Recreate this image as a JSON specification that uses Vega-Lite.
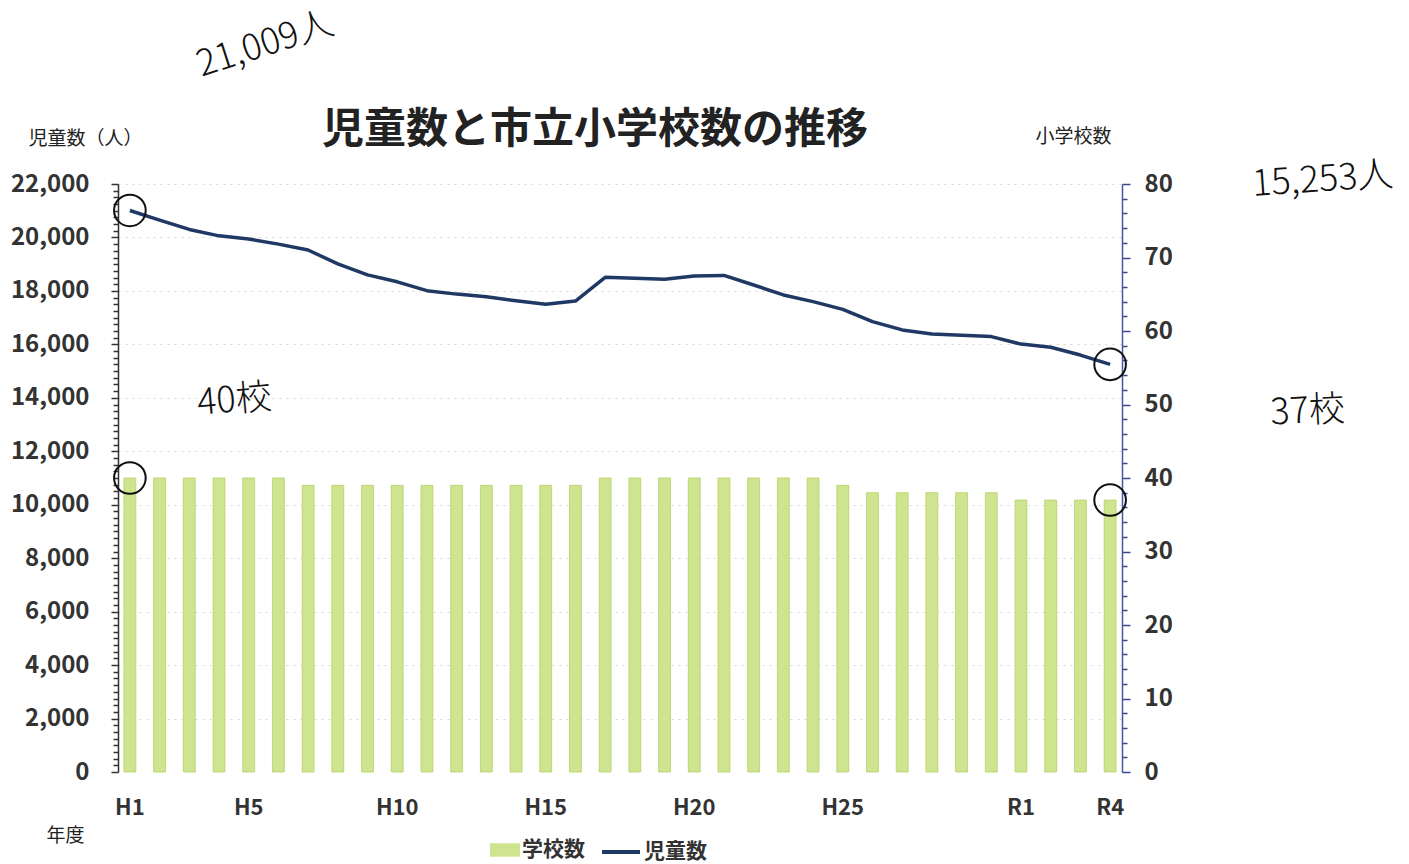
{
  "$schema": "https://vega.github.io/schema/vega-lite/v6.json",
  "width": 1004,
  "height": 588,
  "autosize": {"type": "none"},
  "padding": {"left": 118, "top": 184, "right": 287, "bottom": 92},
  "background": "white",
  "config": {"font": "Noto Sans CJK JP", "view": {"stroke": null}},
  "title": {"text": "児童数と市立小学校数の推移", "fontSize": 42, "fontWeight": "bold", "color": "#222", "anchor": "middle", "frame": "group", "offset": 0, "dx": -25, "dy": 188, "baseline": "bottom"},
  "datasets": {
    "main": [
      {"年度": "H1", "学校数": 40, "児童数": 21009},
      {"年度": "H2", "学校数": 40, "児童数": 20650},
      {"年度": "H3", "学校数": 40, "児童数": 20300},
      {"年度": "H4", "学校数": 40, "児童数": 20060},
      {"年度": "H5", "学校数": 40, "児童数": 19940},
      {"年度": "H6", "学校数": 40, "児童数": 19750},
      {"年度": "H7", "学校数": 39, "児童数": 19530},
      {"年度": "H8", "学校数": 39, "児童数": 19010},
      {"年度": "H9", "学校数": 39, "児童数": 18600},
      {"年度": "H10", "学校数": 39, "児童数": 18340},
      {"年度": "H11", "学校数": 39, "児童数": 18010},
      {"年度": "H12", "学校数": 39, "児童数": 17880},
      {"年度": "H13", "学校数": 39, "児童数": 17780},
      {"年度": "H14", "学校数": 39, "児童数": 17630},
      {"年度": "H15", "学校数": 39, "児童数": 17500},
      {"年度": "H16", "学校数": 39, "児童数": 17620},
      {"年度": "H17", "学校数": 40, "児童数": 18510},
      {"年度": "H18", "学校数": 40, "児童数": 18470},
      {"年度": "H19", "学校数": 40, "児童数": 18440},
      {"年度": "H20", "学校数": 40, "児童数": 18560},
      {"年度": "H21", "学校数": 40, "児童数": 18580},
      {"年度": "H22", "学校数": 40, "児童数": 18220},
      {"年度": "H23", "学校数": 40, "児童数": 17850},
      {"年度": "H24", "学校数": 40, "児童数": 17600},
      {"年度": "H25", "学校数": 39, "児童数": 17310},
      {"年度": "H26", "学校数": 38, "児童数": 16850},
      {"年度": "H27", "学校数": 38, "児童数": 16540},
      {"年度": "H28", "学校数": 38, "児童数": 16390},
      {"年度": "H29", "学校数": 38, "児童数": 16340},
      {"年度": "H30", "学校数": 38, "児童数": 16290},
      {"年度": "R1", "学校数": 37, "児童数": 16010},
      {"年度": "R2", "学校数": 37, "児童数": 15890},
      {"年度": "R3", "学校数": 37, "児童数": 15600},
      {"年度": "R4", "学校数": 37, "児童数": 15253}
    ],
    "noteLine": [
      {"年度": "H1", "児童数": 21009, "注記": "21,009人"},
      {"年度": "R4", "児童数": 15253, "注記": "15,253人"}
    ],
    "noteBar": [
      {"年度": "H1", "学校数": 40, "注記": "40校"},
      {"年度": "R4", "学校数": 37, "注記": "37校"}
    ]
  },
  "encoding": {
    "x": {
      "field": "年度",
      "type": "nominal",
      "scale": {
        "domain": ["H1","H2","H3","H4","H5","H6","H7","H8","H9","H10","H11","H12","H13","H14","H15","H16","H17","H18","H19","H20","H21","H22","H23","H24","H25","H26","H27","H28","H29","H30","R1","R2","R3","R4"],
        "paddingInner": 0.6,
        "paddingOuter": 0.2
      },
      "axis": {
        "orient": "bottom",
        "domain": false,
        "ticks": false,
        "labelAngle": 0,
        "labelPadding": 25,
        "labelFontSize": 22,
        "labelFontWeight": "bold",
        "labelColor": "#333",
        "labelExpr": "indexof(['H1','H5','H10','H15','H20','H25','R1','R4'], datum.value) >= 0 ? datum.value : ''",
        "title": "年度",
        "titleFontSize": 19,
        "titleFontWeight": "normal",
        "titleColor": "#222",
        "titleAngle": 0,
        "titleAlign": "center",
        "titleBaseline": "middle",
        "titleX": -53,
        "titleY": 63
      }
    }
  },
  "layer": [
    {
      "encoding": {
        "y": {
          "field": "学校数",
          "type": "quantitative",
          "scale": {"domain": [0, 80], "nice": false},
          "axis": {
            "orient": "right",
            "values": [0,2,4,6,8,10,12,14,16,18,20,22,24,26,28,30,32,34,36,38,40,42,44,46,48,50,52,54,56,58,60,62,64,66,68,70,72,74,76,78,80],
            "labelExpr": "datum.value % 10 === 0 ? datum.value : ''",
            "labelOverlap": false,
            "labelBound": false,
            "grid": false,
            "domainColor": "#4a55a2",
            "domainWidth": 1.5,
            "tickColor": "#3a4590",
            "tickWidth": 1.5,
            "tickSize": {"condition": {"test": "datum.value % 10 === 0", "value": 8}, "value": 5},
            "labelPadding": 14,
            "labelFontSize": 24,
            "labelFontWeight": "bold",
            "labelColor": "#333",
            "title": "小学校数",
            "titleAngle": 0,
            "titleAlign": "left",
            "titleBaseline": "middle",
            "titleX": -87,
            "titleY": -48,
            "titleFontSize": 19,
            "titleFontWeight": "normal",
            "titleColor": "#222"
          }
        }
      },
      "layer": [
        {
          "data": {"name": "main"},
          "mark": {"type": "bar", "stroke": "#b6d168", "strokeWidth": 0.8},
          "encoding": {
            "fill": {
              "datum": "学校数",
              "scale": {"range": ["#cfe48e"]},
              "legend": {
                "orient": "none",
                "legendX": 372,
                "legendY": 651,
                "title": null,
                "symbolType": "M-1,-0.45H1V0.45H-1Z",
                "symbolSize": 900,
                "symbolStrokeWidth": 0,
                "labelFontSize": 21,
                "labelFontWeight": "bold",
                "labelColor": "#333",
                "labelOffset": 2
              }
            }
          }
        },
        {
          "data": {"name": "noteBar"},
          "mark": {"type": "point", "shape": "circle", "size": 1000, "filled": false, "stroke": "#111", "strokeWidth": 2, "opacity": 1}
        },
        {
          "data": {"name": "noteBar"},
          "transform": [{"filter": "datum['年度'] === 'H1'"}],
          "mark": {"type": "text", "dx": 111, "dy": -68, "fontSize": 36, "fontWeight": 300, "color": "#111", "angle": -5},
          "encoding": {"text": {"field": "注記"}}
        },
        {
          "data": {"name": "noteBar"},
          "transform": [{"filter": "datum['年度'] === 'R4'"}],
          "mark": {"type": "text", "dx": 202, "dy": -78, "fontSize": 36, "fontWeight": 300, "color": "#111", "angle": -3},
          "encoding": {"text": {"field": "注記"}}
        }
      ]
    },
    {
      "encoding": {
        "y": {
          "field": "児童数",
          "type": "quantitative",
          "scale": {"domain": [0, 22000], "nice": false},
          "axis": {
            "orient": "left",
            "values": [0,250,500,750,1000,1250,1500,1750,2000,2250,2500,2750,3000,3250,3500,3750,4000,4250,4500,4750,5000,5250,5500,5750,6000,6250,6500,6750,7000,7250,7500,7750,8000,8250,8500,8750,9000,9250,9500,9750,10000,10250,10500,10750,11000,11250,11500,11750,12000,12250,12500,12750,13000,13250,13500,13750,14000,14250,14500,14750,15000,15250,15500,15750,16000,16250,16500,16750,17000,17250,17500,17750,18000,18250,18500,18750,19000,19250,19500,19750,20000,20250,20500,20750,21000,21250,21500,21750,22000],
            "labelExpr": "datum.value % 2000 === 0 ? format(datum.value, ',') : ''",
            "labelOverlap": false,
            "labelBound": false,
            "grid": true,
            "gridColor": "#cccccc",
            "gridDash": [2, 5],
            "gridWidth": 1,
            "gridOpacity": {"condition": {"test": "datum.value % 2000 === 0 && datum.value > 0", "value": 0.8}, "value": 0},
            "domainColor": "#333",
            "domainWidth": 1.5,
            "tickColor": "#333",
            "tickWidth": 1.5,
            "tickSize": {"condition": {"test": "datum.value % 2000 === 0", "value": 7}, "value": 5},
            "labelPadding": 22,
            "labelFontSize": 24,
            "labelFontWeight": "bold",
            "labelColor": "#333",
            "title": "児童数（人）",
            "titleAngle": 0,
            "titleAlign": "left",
            "titleBaseline": "middle",
            "titleX": -90,
            "titleY": -46,
            "titleFontSize": 19,
            "titleFontWeight": "normal",
            "titleColor": "#222"
          }
        }
      },
      "layer": [
        {
          "data": {"name": "main"},
          "mark": {"type": "line", "strokeWidth": 3.5, "strokeJoin": "round"},
          "encoding": {
            "stroke": {
              "datum": "児童数",
              "scale": {"range": ["#1f3864"]},
              "legend": {
                "orient": "none",
                "legendX": 482,
                "legendY": 647,
                "title": null,
                "symbolType": "stroke",
                "symbolSize": 1444,
                "symbolStrokeWidth": 4,
                "labelFontSize": 21,
                "labelFontWeight": "bold",
                "labelColor": "#333",
                "labelOffset": 2
              }
            }
          }
        },
        {
          "data": {"name": "noteLine"},
          "mark": {"type": "point", "shape": "circle", "size": 1000, "filled": false, "stroke": "#111", "strokeWidth": 2, "opacity": 1}
        },
        {
          "data": {"name": "noteLine"},
          "transform": [{"filter": "datum['年度'] === 'H1'"}],
          "mark": {"type": "text", "dx": 180, "dy": -116, "fontSize": 36, "fontWeight": 300, "color": "#111", "angle": -18},
          "encoding": {"text": {"field": "注記"}}
        },
        {
          "data": {"name": "noteLine"},
          "transform": [{"filter": "datum['年度'] === 'R4'"}],
          "mark": {"type": "text", "dx": 225, "dy": -169, "fontSize": 36, "fontWeight": 300, "color": "#111", "angle": -4},
          "encoding": {"text": {"field": "注記"}}
        }
      ]
    }
  ],
  "resolve": {"scale": {"y": "independent"}}
}
